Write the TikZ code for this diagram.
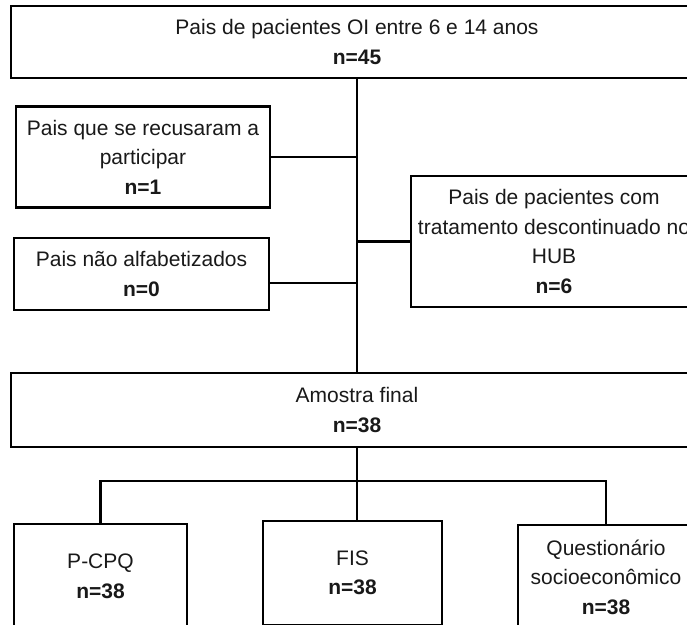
\documentclass[tikz,border=0pt]{standalone}
\usepackage{fontspec}
\setmainfont{Liberation Sans}
\begin{document}
\begin{tikzpicture}[x=1pt,y=-1pt,
  box/.style={draw=black, line width=2.9pt, inner sep=0pt, align=center, fill=white,
    font=\fontsize{21}{29.5}\selectfont, text=black!90},
  conn/.style={draw=black, line width=2.9pt}]
\useasboundingbox (0,0) rectangle (687,624);
\clip (0,0) rectangle (687,624);
\fill[white] (0,0) rectangle (687,624);
% boxes
\node[box, minimum width=692pt, minimum height=72pt] (top) at (357,42) {Pais de pacientes OI entre 6 e 14 anos\\\textbf{n=45}};
\node[box, minimum width=254pt, minimum height=101pt] (b1) at (143,157) {Pais que se recusaram a\\participar\\\textbf{n=1}};
\node[box, minimum width=255pt, minimum height=72pt] (b2) at (141.5,274) {Pais não alfabetizados\\\textbf{n=0}};
\node[box, minimum width=286pt, minimum height=131pt] (b3) at (554,241.5) {Pais de pacientes com\\tratamento descontinuado no\\HUB\\\textbf{n=6}};
\node[box, minimum width=692pt, minimum height=74pt] (am) at (357,410) {Amostra final\\\textbf{n=38}};
\node[box, minimum width=173pt, minimum height=105pt] (p1) at (100.5,576.5) {P-CPQ\\\textbf{n=38}};
\node[box, minimum width=179pt, minimum height=104pt] (p2) at (352.5,573) {FIS\\\textbf{n=38}};
\node[box, minimum width=176pt, minimum height=104pt] (p3) at (606,577) {Questionário\\socioeconômico\\\textbf{n=38}};
\coordinate (hub) at (357,481);
% connectors
\draw[conn] (top.south) -- (am.north);
\draw[conn] (b1.east) -- (b1.east -| top.south);
\draw[conn] ([yshift=-9pt]b2.east) -- ([yshift=-9pt]b2.east -| top.south);
\draw[conn] (b3.west) -- (b3.west -| top.south);
\draw[conn] (am.south) -- (hub);
\draw[conn] (p1.north) |- (hub) -| (p3.north);
\draw[conn] (hub) -- (hub |- p2.north);
\end{tikzpicture}
\end{document}
